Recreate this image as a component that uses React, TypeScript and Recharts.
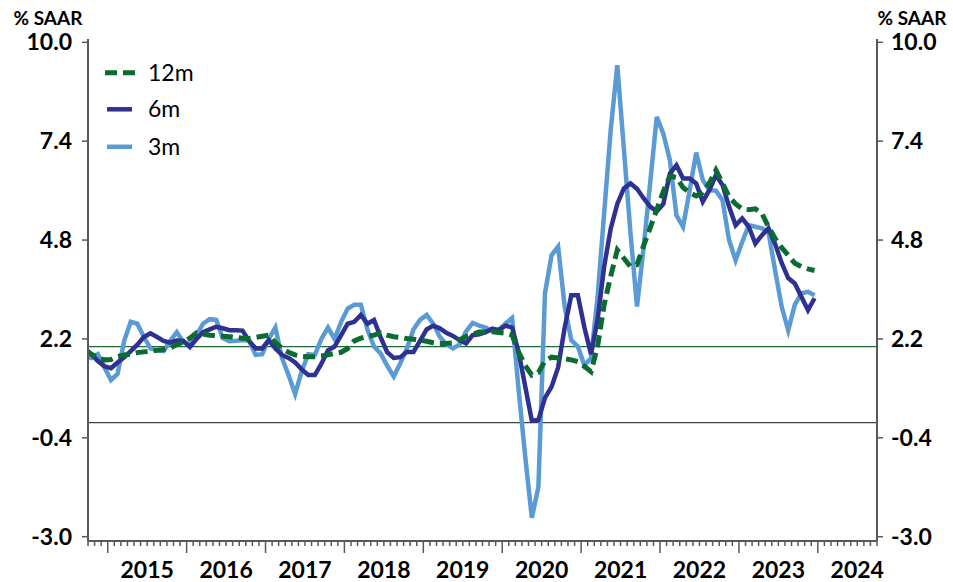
import { Legend, Line, LineChart, ReferenceLine, XAxis, YAxis } from 'recharts';

const FONT = 'Lato, "Noto Sans", sans-serif';
const AXIS_GREY = '#595959';

// one value per month, Sep 2014 .. Dec 2023 (% SAAR)
const twelveM = [
  1.88, 1.80, 1.70, 1.65, 1.66, 1.74, 1.78, 1.80, 1.84, 1.86,
  1.88, 1.90, 1.92, 1.96, 2.05, 2.12, 2.22, 2.36, 2.33, 2.30,
  2.29, 2.27, 2.26, 2.24, 2.22, 2.21, 2.24, 2.27, 2.30, 2.10,
  1.95, 1.85, 1.78, 1.74, 1.73, 1.73, 1.75, 1.78, 1.82, 1.85,
  1.95, 2.15, 2.22, 2.26, 2.30, 2.36, 2.30, 2.26, 2.24, 2.21,
  2.19, 2.17, 2.14, 2.10, 2.08, 2.08, 2.10, 2.18, 2.26, 2.32,
  2.38, 2.39, 2.39, 2.37, 2.35, 2.30, 1.85, 1.50, 1.25, 1.32,
  1.62, 1.72, 1.70, 1.68, 1.65, 1.60, 1.48, 1.34, 2.00, 3.10,
  3.85, 4.54, 4.32, 4.10, 4.15, 4.65, 5.12, 5.60, 6.08, 6.48,
  6.45, 6.18, 6.05, 5.96, 6.05, 6.30, 6.64, 6.30, 5.94, 5.75,
  5.62, 5.60, 5.62, 5.50, 5.15, 4.84, 4.60, 4.40, 4.19, 4.10,
  4.04, 4.00,
];

const sixM = [
  1.95, 1.80, 1.62, 1.48, 1.43, 1.58, 1.72, 1.88, 2.05, 2.25,
  2.35, 2.25, 2.15, 2.10, 2.16, 2.15, 1.99, 2.20, 2.38, 2.45,
  2.52, 2.48, 2.43, 2.43, 2.42, 2.15, 1.95, 1.95, 2.17, 1.95,
  1.78, 1.70, 1.58, 1.40, 1.25, 1.25, 1.55, 1.90, 2.00, 2.30,
  2.60, 2.65, 2.83, 2.60, 2.70, 2.25, 1.85, 1.70, 1.72, 1.86,
  1.86, 2.15, 2.45, 2.55, 2.48, 2.36, 2.28, 2.17, 2.08, 2.30,
  2.32, 2.38, 2.47, 2.43, 2.55, 2.50, 1.85, 0.95, 0.05, 0.07,
  0.65, 0.94, 1.45, 2.50, 3.35, 3.35, 2.50, 1.80, 2.70, 4.10,
  5.10, 5.75, 6.16, 6.29, 6.15, 5.90, 5.68, 5.55, 5.75, 6.55,
  6.77, 6.42, 6.42, 6.29, 5.81, 6.11, 6.51, 6.25, 5.68, 5.19,
  5.37, 5.15, 4.71, 4.93, 5.11, 4.70, 4.20, 3.80, 3.66, 3.31,
  2.96, 3.27,
];

const threeM = [
  1.75, 1.70, 1.80, 1.45, 1.12, 1.28, 2.15, 2.65, 2.60, 2.25,
  1.95, 1.90, 1.88, 2.15, 2.38, 2.12, 2.04, 2.30, 2.60, 2.72,
  2.70, 2.22, 2.14, 2.15, 2.17, 2.15, 1.78, 1.80, 2.20, 2.50,
  1.70, 1.25, 0.75, 1.35, 1.80, 1.78, 2.20, 2.50, 2.20, 2.65,
  3.00, 3.10, 3.10, 2.45, 2.00, 1.82, 1.50, 1.21, 1.56, 1.95,
  2.45, 2.70, 2.83, 2.60, 2.26, 2.06, 1.95, 2.05, 2.40, 2.62,
  2.55, 2.50, 2.40, 2.45, 2.60, 2.75, 0.85, -0.90, -2.50, -1.70,
  3.40, 4.40, 4.63, 3.05, 2.17, 2.00, 1.50, 1.70, 3.30, 5.50,
  7.70, 9.40, 7.20, 5.00, 3.05, 4.60, 6.30, 8.04, 7.60, 6.90,
  5.45, 5.15, 6.10, 7.10, 6.38, 6.11, 6.10, 5.85, 4.80, 4.27,
  4.75, 5.19, 5.15, 5.11, 5.00, 4.00, 3.05, 2.43, 3.10, 3.40,
  3.44, 3.35,
];

const YEARS = ['2015', '2016', '2017', '2018', '2019', '2020', '2021', '2022', '2023', '2024'];
const Y_TICKS = [-3.0, -0.4, 2.2, 4.8, 7.4, 10.0];

const SERIES = [
  { key: 'm12', name: '12m', color: '#0b6b30', width: 5, dash: '12 6' },
  { key: 'm6', name: '6m', color: '#2e3192', width: 4.5, dash: undefined },
  { key: 'm3', name: '3m', color: '#5b9bd5', width: 4.5, dash: undefined },
];

// x axis runs in months from Oct 2014 (0) to Oct 2024 (120); points sit mid-month
const data = threeM.map((v, i) => ({ t: i - 0.5, m3: v, m6: sixM[i], m12: twelveM[i] }));
const monthTicks = Array.from({ length: 121 }, (_, i) => i);

function MonthTick({ x, y, payload }: any) {
  const v = payload.value as number;
  const isJan = (v - 3) % 12 === 0;
  const isMid = v >= 9 && (v - 9) % 12 === 0;
  return (
    <g>
      <line x1={x} x2={x} y1={y} y2={y + (isJan ? 12 : 5)} stroke={AXIS_GREY} strokeWidth={1.5} />
      {isMid && (
        <text x={x} y={y + 37} textAnchor="middle" fontFamily={FONT} fontSize={23} fontWeight={700} fill="#000">
          {YEARS[(v - 9) / 12]}
        </text>
      )}
    </g>
  );
}

function LegendBox() {
  const rows = [22.7, 59.3, 96.8];
  return (
    <svg width={110} height={115}>
      {SERIES.map((s, i) => (
        <g key={s.key}>
          <line
            x1={s.dash ? 5 : 7}
            x2={s.dash ? 35 : 32}
            y1={rows[i]}
            y2={rows[i]}
            stroke={s.color}
            strokeWidth={s.width}
            strokeDasharray={s.dash}
          />
          <text x={48} y={rows[i] + 8} fontFamily={FONT} fontSize={23} fill="#000">
            {s.name}
          </text>
        </g>
      ))}
    </svg>
  );
}

const yTick = { fill: '#000', fontSize: 23, fontWeight: 700, fontFamily: FONT };
const titleLabel = {
  value: '% SAAR',
  position: 'top' as const,
  offset: 14,
  fill: '#000',
  fontSize: 19,
  fontWeight: 700,
  fontFamily: FONT,
};

export default function App() {
  return (
    <div style={{ position: 'absolute', left: 0, top: 0, background: '#fff' }}>
      <LineChart width={953} height={582} data={data} margin={{ top: 39, right: 6, bottom: 0, left: 8 }}>
        <XAxis
          dataKey="t"
          type="number"
          domain={[0, 120]}
          allowDataOverflow
          ticks={monthTicks}
          interval={0}
          height={41}
          tickSize={0}
          tickMargin={0}
          tickLine={false}
          axisLine={{ stroke: AXIS_GREY, strokeWidth: 2 }}
          tick={<MonthTick />}
        />
        <YAxis
          yAxisId="left"
          domain={[-3.113, 10.087]}
          allowDataOverflow
          ticks={Y_TICKS}
          interval={0}
          width={80}
          tickSize={6}
          tickMargin={10}
          axisLine={{ stroke: AXIS_GREY, strokeWidth: 2 }}
          tickLine={{ stroke: AXIS_GREY, strokeWidth: 1.5 }}
          tick={yTick}
          tickFormatter={(v: number) => v.toFixed(1)}
          label={titleLabel}
        />
        <YAxis
          yAxisId="right"
          orientation="right"
          domain={[-3.113, 10.087]}
          allowDataOverflow
          ticks={Y_TICKS}
          interval={0}
          width={70}
          tickSize={6}
          tickMargin={8}
          axisLine={{ stroke: AXIS_GREY, strokeWidth: 2 }}
          tickLine={{ stroke: AXIS_GREY, strokeWidth: 1.5 }}
          tick={yTick}
          tickFormatter={(v: number) => v.toFixed(1)}
          label={titleLabel}
        />
        <ReferenceLine yAxisId="left" y={2} stroke="#1d6b32" strokeWidth={1.2} />
        <ReferenceLine yAxisId="left" y={0} stroke="#404040" strokeWidth={1.2} />
        {[...SERIES].reverse().map((s) => (
          <Line
            key={s.key}
            yAxisId="left"
            dataKey={s.key}
            name={s.name}
            type="linear"
            stroke={s.color}
            strokeWidth={s.width}
            strokeDasharray={s.dash}
            dot={false}
            activeDot={false}
            isAnimationActive={false}
          />
        ))}
        <Legend
          layout="horizontal"
          verticalAlign="middle"
          align="center"
          wrapperStyle={{ position: 'absolute', left: 100, top: 50, width: 110, height: 115 }}
          content={() => <LegendBox />}
        />
      </LineChart>
    </div>
  );
}
